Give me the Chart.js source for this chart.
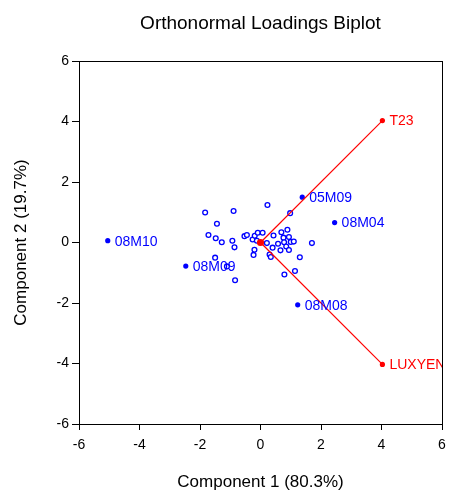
<!DOCTYPE html>
<html lang="en">
<head>
    <meta charset="UTF-8">
    <title>Orthonormal Loadings Biplot</title>
    <style>
        body { margin: 0; background: #fff; }
        canvas { display: block; }
    </style>
</head>
<body>
    <canvas id="biplot" width="449" height="493"></canvas>

    <script src="https://cdn.jsdelivr.net/npm/chart.js"></script>
    <script>
        // unlabelled observation scores (open circles)
        const scoreX = [-1.83, -0.89, 0.23, 0.98, -1.44, -1.72, -1.48, -1.28, -0.93, -0.86,
                        -0.53, -0.45, -0.26, -0.19, -0.09, 0.07, -0.12, -0.20, -0.23, 0.21,
                        0.43, 0.40, 0.30, 0.34, 0.69, 0.89, 0.76, 0.94, 0.58, 0.78,
                        1.00, 1.10, 0.85, 0.66, 0.94, 1.70, 1.30, 1.14, 0.79, -0.84,
                        -1.50, -1.11];
        const scoreY = [0.99, 1.04, 1.24, 0.97, 0.62, 0.25, 0.14, 0.01, 0.06, -0.16,
                        0.21, 0.25, 0.10, 0.22, 0.32, 0.32, 0.06, -0.24, -0.41, -0.02,
                        0.23, -0.17, -0.40, -0.48, 0.34, 0.42, 0.16, 0.18, -0.04, 0.01,
                        0.02, 0.03, -0.13, -0.26, -0.25, -0.02, -0.49, -0.94, -1.06, -1.25,
                        -0.50, -0.79];

        // labelled observations (solid dots)
        const obsNames = ['08M10', '08M09', '05M09', '08M04', '08M08'];
        const obsX = [-5.05, -2.47, 1.38, 2.45, 1.23];
        const obsY = [0.06, -0.78, 1.50, 0.66, -2.06];

        // variable loadings (red vectors)
        const loadNames = ['T23', 'LUXYEN'];
        const loadX = [4.03, 4.03];
        const loadY = [4.03, -4.03];

        const axisTicks = [-6, -4, -2, 0, 2, 4, 6];

        const BLUE = '#0000ff';
        const RED = '#ff0000';
        const FONT = 'Liberation Sans, Arial, sans-serif';
        const TITLE = 'Orthonormal Loadings Biplot';

        const toPts = (xs, ys) => xs.map((x, i) => ({ x: x, y: ys[i] }));

        const loadDatasets = loadNames.map((name, i) => ({
            label: name,
            data: [{ x: 0, y: 0 }, { x: loadX[i], y: loadY[i] }],
            showLine: true,
            borderColor: RED,
            borderWidth: 1.2,
            pointRadius: [0, 2.6],
            pointBackgroundColor: RED,
            pointBorderWidth: 0,
            names: ['', name],
            textColor: RED,
            order: 2
        }));

        // title over the plot area, box frame, point labels
        const framePlugin = {
            id: 'frame',
            afterDatasetsDraw(chart) {
                const { ctx, chartArea: a } = chart;
                ctx.save();
                ctx.beginPath();
                ctx.rect(a.left, a.top, a.right - a.left, a.bottom - a.top);
                ctx.clip();
                ctx.font = '14px ' + FONT;
                ctx.textBaseline = 'middle';
                ctx.textAlign = 'left';
                chart.data.datasets.forEach((ds, di) => {
                    if (!ds.names) return;
                    const meta = chart.getDatasetMeta(di);
                    ds.names.forEach((n, i) => {
                        const el = meta.data[i];
                        if (!n || !el) return;
                        ctx.fillStyle = ds.textColor;
                        ctx.fillText(n, el.x + 7, el.y + 1);
                    });
                });
                ctx.restore();

                ctx.save();
                ctx.strokeStyle = '#000';
                ctx.lineWidth = 1;
                ctx.strokeRect(Math.round(a.left) + 0.5, Math.round(a.top) + 0.5,
                    Math.round(a.right - a.left), Math.round(a.bottom - a.top));
                ctx.fillStyle = '#000';
                ctx.font = '19px ' + FONT;
                ctx.textAlign = 'center';
                ctx.textBaseline = 'middle';
                ctx.fillText(TITLE, (a.left + a.right) / 2, 24);
                ctx.restore();
            }
        };

        new Chart(document.getElementById('biplot'), {
            type: 'scatter',
            data: {
                datasets: [
                    {
                        label: 'scores',
                        data: toPts(scoreX, scoreY),
                        pointRadius: 2.4,
                        pointBorderWidth: 1.3,
                        pointBorderColor: BLUE,
                        pointBackgroundColor: '#fff',
                        order: 3
                    },
                    {
                        label: 'labelled',
                        data: toPts(obsX, obsY),
                        pointRadius: 2.6,
                        pointBorderWidth: 0,
                        pointBackgroundColor: BLUE,
                        names: obsNames,
                        textColor: BLUE,
                        order: 3
                    },
                    ...loadDatasets,
                    {
                        label: 'origin',
                        data: [{ x: 0, y: 0 }],
                        pointRadius: 3.6,
                        pointBorderWidth: 0,
                        pointBackgroundColor: RED,
                        order: 1
                    }
                ]
            },
            options: {
                responsive: false,
                animation: false,
                devicePixelRatio: 1,
                layout: { padding: { right: 7, top: 61 } },
                plugins: {
                    legend: { display: false },
                    tooltip: { enabled: false },
                    title: { display: false }
                },
                scales: {
                    x: {
                        min: -6, max: 6,
                        afterBuildTicks: s => { s.ticks = axisTicks.map(v => ({ value: v })); },
                        afterFit: s => { s.height = 69; s.paddingRight = 4; s.paddingLeft = 0; },
                        grid: { drawOnChartArea: false, tickLength: 6, color: '#000' },
                        border: { color: '#000' },
                        ticks: { color: '#000', padding: 7, font: { family: FONT, size: 14 } },
                        title: {
                            display: true, text: 'Component 1 (80.3%)', color: '#000',
                            font: { family: FONT, size: 17 }, padding: { top: 4, bottom: 0 }
                        }
                    },
                    y: {
                        min: -6, max: 6,
                        afterBuildTicks: s => { s.ticks = axisTicks.map(v => ({ value: v })); },
                        afterFit: s => { s.width = 79; },
                        grid: { drawOnChartArea: false, tickLength: 7, color: '#000' },
                        border: { color: '#000' },
                        ticks: { color: '#000', padding: 3, font: { family: FONT, size: 14 } },
                        title: {
                            display: true, text: 'Component 2 (19.7%)', color: '#000',
                            font: { family: FONT, size: 17 }, padding: { top: 11, bottom: 1 }
                        }
                    }
                }
            },
            plugins: [framePlugin]
        });
    </script>
</body>
</html>
